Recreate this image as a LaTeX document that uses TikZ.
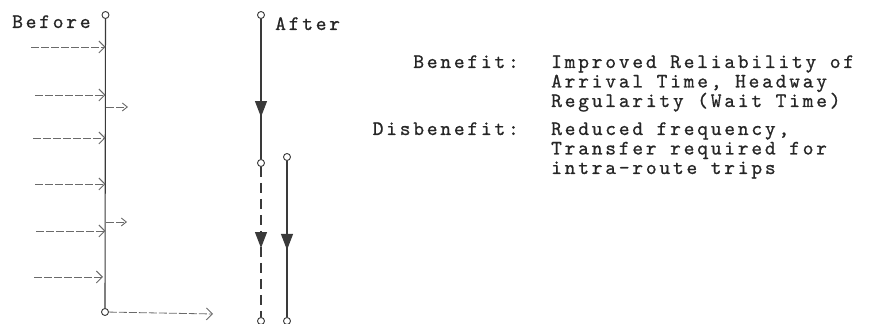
\documentclass[tikz,border=0pt]{standalone}
\usepackage{fontspec}
\newfontfamily\typewriter{lmmono10-regular}[Extension=.otf, LetterSpace=13.5, FakeBold=0.8]
\usetikzlibrary{arrows.meta,decorations.markings}

\definecolor{ink}{HTML}{3A3A3A}
\definecolor{lightink}{HTML}{6A6A6A}

\tikzset{
  stop/.style={circle, draw=ink, line width=0.9pt, fill=white, minimum size=7pt, inner sep=0pt},
  route/.style={draw=ink, line width=1.1pt},
  dashroute/.style={draw=ink, line width=1.1pt, dash pattern=on 10pt off 6pt},
  trip/.style={draw=lightink, line width=0.8pt, dash pattern=on 8pt off 2pt,
    -{Straight Barb[length=6pt,width=12pt,line width=0.9pt]}},
  flowmark/.style={postaction={decorate, decoration={markings,
    mark=at position #1 with {\arrow[ink, solid]{Triangle[length=16pt,width=12pt]}}}}},
  txt/.style={font=\typewriter\fontsize{20.5}{19}\selectfont, text=black!85, inner sep=0pt,
    text height=12pt, text depth=3pt},
}

\begin{document}
\begin{tikzpicture}[x=1pt,y=1pt]
  \useasboundingbox (0,0) rectangle (871,324);

  % ---- Before: one long route ----
  \node[stop] (bt) at (105.5,309) {};
  \node[stop] (bb) at (105,12) {};
  \draw[route] (bt) -- (bb);
  \node[txt, anchor=base west] (before) at (12,296) {Before};

  % boardings along the long route
  \coordinate (b1) at (105.5,277);
  \coordinate (b2) at (105.5,229);
  \coordinate (b3) at (105.5,186);
  \coordinate (b4) at (105.5,140);
  \coordinate (b5) at (105.5,93);
  \coordinate (b6) at (103,47);
  \coordinate (s1) at (31,277);
  \coordinate (s2) at (35,229);
  \coordinate (s3) at (33,186);
  \coordinate (s4) at (35,140);
  \coordinate (s5) at (36,93);
  \coordinate (s6) at (34,47);
  \foreach \i in {1,...,6} \draw[trip] (s\i) -- (b\i);

  % alightings
  \coordinate (o1) at (106,217);
  \coordinate (e1) at (128,217);
  \coordinate (o2) at (106,102);
  \coordinate (e2) at (127,102);
  \draw[trip, -{Straight Barb[length=5pt,width=8pt,line width=0.9pt]}] (o1) -- (e1);
  \draw[trip, -{Straight Barb[length=5pt,width=8pt,line width=0.9pt]}] (o2) -- (e2);
  \coordinate (end) at (213,10);
  \draw[trip] (bb) -- (end);

  % ---- After: route split in two ----
  \node[stop] (a1) at (261,309) {};
  \node[stop] (a2) at (261,161) {};
  \node[stop] (a3) at (261,3) {};
  \node[stop] (c1) at (287,167) {};
  \node[stop] (c2) at (287,3) {};
  \draw[route, flowmark=0.70] (a1) -- (a2);
  \draw[dashroute, flowmark=0.54] (a2) -- (a3);
  \draw[route, flowmark=0.57] (c1) -- (c2);
  \node[txt, anchor=base west] (after) at (275,294) {After};

  % ---- Effects ----
  \node[txt, anchor=base east] (ben) at (519,256) {Benefit:};
  \node[txt, anchor=base west] (ben1) at (551,256) {Improved Reliability of};
  \node[txt, anchor=base west] (ben2) at (551,236.5) {Arrival Time, Headway};
  \node[txt, anchor=base west] (ben3) at (551,217) {Regularity (Wait Time)};
  \node[txt, anchor=base east] (dis) at (519,189) {Disbenefit:};
  \node[txt, anchor=base west] (dis1) at (551,189) {Reduced frequency,};
  \node[txt, anchor=base west] (dis2) at (551,169.5) {Transfer required for};
  \node[txt, anchor=base west] (dis3) at (551,150) {intra-route trips};
\end{tikzpicture}
\end{document}
